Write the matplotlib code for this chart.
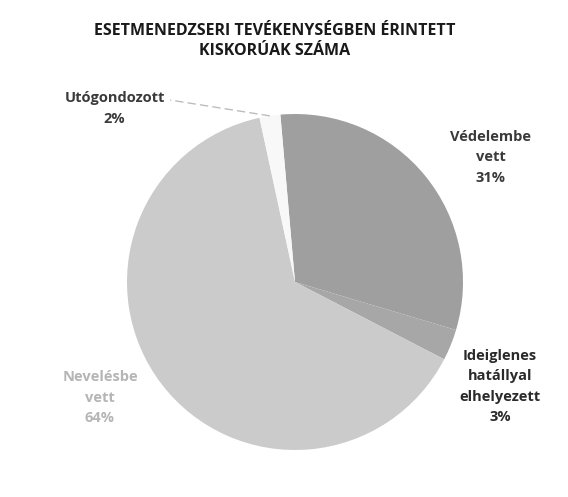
import numpy as np
import matplotlib.pyplot as plt

plt.rcParams['font.family'] = ['Open Sans', 'DejaVu Sans']

title = "ESETMENEDZSERI TEVÉKENYSÉGBEN ÉRINTETT\nKISKORÚAK SZÁMA"
categories = ["Védelembe\nvett", "Ideiglenes\nhatállyal\nelhelyezett", "Nevelésbe\nvett", "Utógondozott"]
shares = [31, 3, 64, 2]
colors = ["#9f9f9f", "#a7a7a7", "#cbcbcb", "#f8f8f8"]
text_colors = ["#3a3a3a", "#2a2a2a", "#b5b5b5", "#3a3a3a"]

fig = plt.figure(figsize=(5.68, 4.97), dpi=100)
ax = fig.add_axes([127 / 568, 47 / 497, 336 / 568, 336 / 497])

wedges, _ = ax.pie(shares, colors=colors, startangle=95, counterclock=False,
                   wedgeprops=dict(linewidth=0))
ax.set_xlim(-1, 1)
ax.set_ylim(-1, 1)
ax.set_aspect('equal')

# label placement: (angle offset from slice middle, distance from centre)
label_pos = [(-6.7, 1.38), (-5, 1.37), (-6.7, 1.35), (37.5, 1.49)]
for w, cat, val, tc, (off, dist) in zip(wedges, categories, shares, text_colors, label_pos):
    mid = np.deg2rad((w.theta1 + w.theta2) / 2 + off)
    x, y = dist * np.cos(mid), dist * np.sin(mid)
    ax.text(x, y, f"{cat}\n{val}%", ha='center', va='center', fontsize=10.5,
            fontweight='bold', color=tc, linespacing=1.6)
    if val == 2:
        edge = np.deg2rad((w.theta1 + w.theta2) / 2)
        ax.plot([np.cos(edge), x + 0.33], [np.sin(edge), y + 0.05],
                color="#bdbdbd", lw=1, ls=(0, (6, 3)), clip_on=False)

fig.text(275 / 568, 1 - 41 / 497, title, ha='center', va='center',
         fontsize=11.5, fontweight='bold', color="#1a1a1a", linespacing=1.3)

fig.savefig("out.png", dpi=100)
